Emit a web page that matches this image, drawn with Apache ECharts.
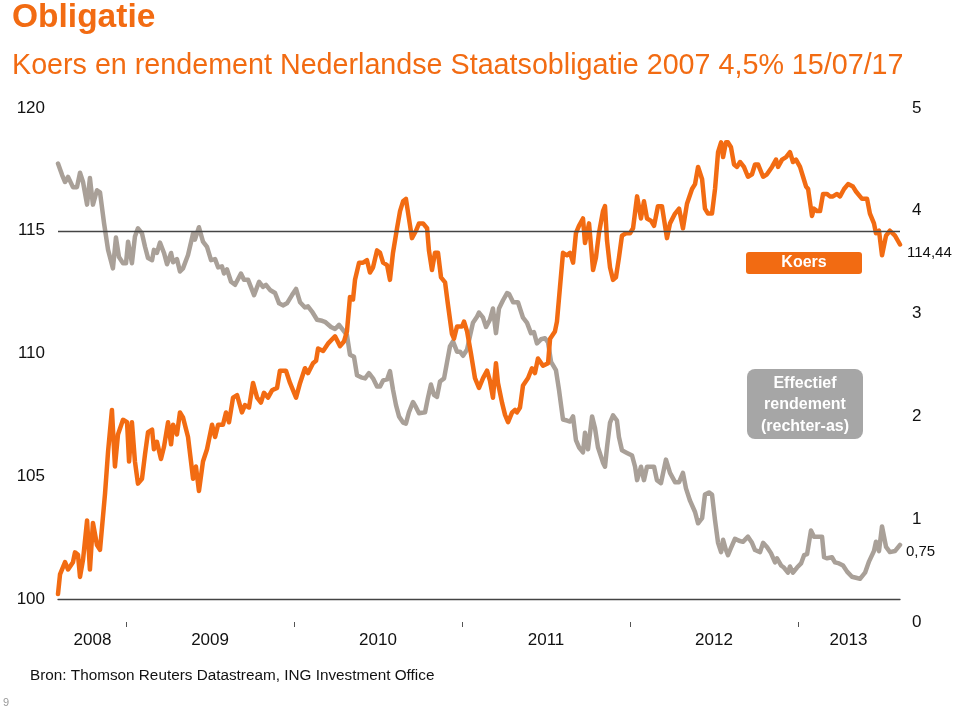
<!DOCTYPE html>
<html><head><meta charset="utf-8">
<script src="https://cdn.jsdelivr.net/npm/echarts@6/dist/echarts.min.js"></script>
<style>html,body{margin:0;padding:0;background:#fff}#c{width:960px;height:709px}</style>
</head><body><div id="c"></div>
<script>
// ---- data (dates as decimal years) ----
const koersDates = [
2008.595,2008.607,2008.637,2008.655,2008.684,2008.696,2008.714,2008.726,2008.744,2008.768,
2008.785,2008.803,2008.827,2008.845,2008.875,2008.893,2008.916,2008.934,2008.952,2008.982,
2009.006,2009.018,2009.035,2009.053,2009.071,2009.095,2009.113,2009.131,2009.155,2009.166,
2009.184,2009.208,2009.226,2009.250,2009.268,2009.280,2009.303,2009.321,2009.339,2009.369,
2009.399,2009.416,2009.434,2009.458,2009.482,2009.512,2009.530,2009.548,2009.577,2009.595,
2009.613,2009.637,2009.661,2009.690,2009.708,2009.732,2009.756,2009.780,2009.803,2009.821,
2009.845,2009.869,2009.899,2009.916,2009.952,2009.976,2010.012,2010.036,2010.065,2010.083,
2010.113,2010.131,2010.143,2010.173,2010.202,2010.244,2010.274,2010.298,2010.315,2010.333,
2010.351,2010.363,2010.387,2010.411,2010.434,2010.452,2010.470,2010.494,2010.512,2010.530,
2010.554,2010.571,2010.589,2010.613,2010.631,2010.649,2010.666,2010.684,2010.702,2010.726,
2010.744,2010.768,2010.792,2010.803,2010.821,2010.839,2010.857,2010.875,2010.899,2010.916,
2010.940,2010.952,2010.970,2011.000,2011.012,2011.030,2011.053,2011.077,2011.101,2011.125,
2011.149,2011.166,2011.184,2011.202,2011.214,2011.238,2011.256,2011.274,2011.298,2011.315,
2011.327,2011.345,2011.363,2011.393,2011.416,2011.434,2011.452,2011.482,2011.512,2011.524,
2011.553,2011.565,2011.583,2011.601,2011.625,2011.643,2011.661,2011.678,2011.696,2011.720,
2011.732,2011.756,2011.780,2011.797,2011.815,2011.839,2011.851,2011.863,2011.881,2011.899,
2011.916,2011.934,2011.952,2011.976,2012.000,2012.018,2012.042,2012.065,2012.083,2012.101,
2012.125,2012.143,2012.166,2012.190,2012.220,2012.238,2012.268,2012.292,2012.315,2012.339,
2012.369,2012.387,2012.405,2012.429,2012.446,2012.464,2012.488,2012.506,2012.524,2012.542,
2012.554,2012.571,2012.583,2012.601,2012.619,2012.637,2012.655,2012.678,2012.702,2012.726,
2012.744,2012.762,2012.792,2012.815,2012.845,2012.869,2012.881,2012.905,2012.929,2012.952,
2012.970,2012.988,2013.012,2013.030,2013.048,2013.060,2013.083,2013.095,2013.113,2013.131,
2013.149,2013.173,2013.190,2013.208,2013.232,2013.250,2013.274,2013.298,2013.327,2013.345,
2013.381,2013.411,2013.428,2013.452,2013.464,2013.482,2013.500,2013.524,2013.547,2013.577,2013.607
];
const koersValues = [
100.2,101.0,101.5,101.2,101.5,101.9,101.8,100.9,101.6,103.2,
101.2,103.1,102.2,102.0,104.3,106.0,107.7,105.4,106.7,107.3,
107.2,105.6,107.2,105.6,104.7,104.9,105.9,106.8,106.9,106.1,
106.4,105.7,106.2,107.2,106.3,107.1,106.7,107.6,107.4,106.6,
104.9,105.4,104.4,105.6,106.1,107.1,106.6,107.1,107.1,107.6,
107.2,108.2,108.3,107.6,107.9,107.8,108.8,108.2,108.0,108.4,
108.2,108.5,108.6,109.3,109.3,108.8,108.2,108.8,109.4,109.2,
109.6,109.7,110.2,110.1,110.4,110.7,110.3,110.5,110.9,112.3,
112.2,113.0,113.7,113.7,113.8,113.3,113.5,114.2,114.1,113.7,
113.6,113.0,114.1,115.1,115.8,116.2,116.3,115.5,114.7,115.0,
115.3,115.3,115.1,114.2,113.4,114.1,114.1,113.1,112.9,112.0,
110.8,110.6,111.1,111.1,111.3,110.9,110.0,109.0,108.6,109.0,
109.3,108.9,108.2,109.6,108.8,108.0,107.5,107.2,107.6,107.7,
107.6,107.8,108.7,109.0,109.4,109.2,109.8,109.5,109.6,110.6,
110.9,111.3,112.7,114.1,114.0,114.1,113.7,114.9,115.2,115.5,
114.5,115.3,113.4,113.9,114.9,115.8,116.0,114.6,113.5,113.0,
113.1,113.9,114.8,114.9,114.9,115.1,116.4,115.5,116.2,115.5,
115.4,115.2,116.0,116.0,114.7,115.3,115.7,115.9,115.1,116.1,
116.7,116.9,117.6,117.1,115.9,115.7,115.7,116.7,118.2,118.6,
118.0,118.6,118.6,118.4,117.7,117.6,117.8,117.6,117.2,117.3,
117.7,117.7,117.2,117.3,117.6,117.9,117.6,117.9,118.0,118.2,
117.8,117.9,117.6,117.2,116.8,116.7,115.6,115.9,115.8,115.8,
116.5,116.5,116.4,116.4,116.5,116.4,116.7,116.9,116.8,116.6,
116.3,116.3,115.7,115.3,114.9,115.0,114.0,114.8,115.0,114.8,114.44
];
const yieldDates = [
2008.595,2008.619,2008.637,2008.655,2008.684,2008.708,2008.726,2008.744,2008.768,2008.785,
2008.803,2008.827,2008.845,2008.869,2008.893,2008.922,2008.940,2008.958,2008.982,2009.000,
2009.012,2009.035,2009.053,2009.071,2009.095,2009.113,2009.131,2009.155,2009.166,2009.184,
2009.202,2009.226,2009.244,2009.268,2009.280,2009.303,2009.321,2009.339,2009.369,2009.399,
2009.410,2009.434,2009.458,2009.482,2009.506,2009.530,2009.548,2009.571,2009.583,2009.601,
2009.625,2009.649,2009.684,2009.702,2009.726,2009.762,2009.792,2009.815,2009.833,2009.857,
2009.887,2009.911,2009.934,2009.958,2009.988,2010.012,2010.036,2010.065,2010.083,2010.107,
2010.137,2010.167,2010.184,2010.220,2010.244,2010.268,2010.292,2010.315,2010.333,2010.357,
2010.375,2010.399,2010.423,2010.446,2010.470,2010.494,2010.512,2010.530,2010.554,2010.571,
2010.589,2010.607,2010.625,2010.649,2010.666,2010.684,2010.708,2010.726,2010.744,2010.780,
2010.797,2010.815,2010.833,2010.851,2010.869,2010.893,2010.910,2010.928,2010.946,2010.970,
2010.988,2011.006,2011.030,2011.047,2011.065,2011.089,2011.101,2011.125,2011.143,2011.166,
2011.184,2011.202,2011.220,2011.244,2011.268,2011.280,2011.304,2011.333,2011.363,2011.387,
2011.410,2011.428,2011.446,2011.470,2011.494,2011.512,2011.530,2011.559,2011.577,2011.601,
2011.625,2011.643,2011.661,2011.678,2011.696,2011.720,2011.732,2011.750,2011.774,2011.791,
2011.809,2011.839,2011.851,2011.863,2011.881,2011.899,2011.922,2011.934,2011.952,2011.976,
2012.012,2012.030,2012.042,2012.065,2012.083,2012.101,2012.125,2012.143,2012.160,2012.184,
2012.214,2012.238,2012.268,2012.292,2012.315,2012.333,2012.357,2012.387,2012.405,2012.429,
2012.446,2012.470,2012.488,2012.506,2012.524,2012.542,2012.554,2012.571,2012.583,2012.601,
2012.625,2012.649,2012.672,2012.702,2012.726,2012.744,2012.774,2012.792,2012.815,2012.839,
2012.863,2012.875,2012.899,2012.916,2012.940,2012.952,2012.970,2012.994,2013.018,2013.036,
2013.054,2013.077,2013.095,2013.119,2013.143,2013.155,2013.173,2013.202,2013.220,2013.244,
2013.268,2013.292,2013.321,2013.345,2013.369,2013.399,2013.423,2013.452,2013.464,2013.482,
2013.500,2013.524,2013.547,2013.577,2013.607
];
const yieldValues = [
4.46,4.35,4.28,4.33,4.23,4.23,4.37,4.28,4.06,4.32,
4.06,4.20,4.18,3.88,3.62,3.44,3.74,3.55,3.49,3.49,
3.70,3.49,3.75,3.83,3.78,3.65,3.54,3.52,3.62,3.59,
3.69,3.59,3.48,3.59,3.50,3.53,3.41,3.44,3.57,3.78,
3.72,3.84,3.70,3.65,3.52,3.53,3.45,3.46,3.39,3.43,
3.31,3.28,3.39,3.33,3.33,3.18,3.31,3.26,3.28,3.23,
3.20,3.10,3.08,3.10,3.18,3.24,3.11,3.06,3.07,3.02,
2.94,2.93,2.92,2.87,2.85,2.89,2.84,2.79,2.60,2.58,
2.40,2.38,2.37,2.42,2.37,2.29,2.29,2.35,2.36,2.44,
2.26,2.11,2.00,1.94,1.93,2.04,2.14,2.09,2.03,2.04,
2.18,2.31,2.21,2.19,2.34,2.37,2.52,2.68,2.73,2.63,
2.63,2.59,2.65,2.78,2.91,2.97,3.01,2.96,2.87,2.94,
3.05,2.81,3.05,3.13,3.20,3.19,3.11,3.11,2.96,2.91,
2.81,2.82,2.71,2.75,2.76,2.72,2.53,2.45,2.26,1.97,
1.96,1.95,2.00,1.77,1.70,1.65,1.84,1.68,2.00,1.89,
1.70,1.55,1.51,1.70,1.94,2.01,1.96,1.80,1.67,1.65,
1.62,1.51,1.38,1.51,1.38,1.51,1.51,1.51,1.38,1.35,
1.58,1.45,1.36,1.36,1.45,1.30,1.18,1.07,0.96,1.01,
1.24,1.26,1.24,0.99,0.77,0.68,0.80,0.70,0.65,0.72,
0.81,0.79,0.78,0.83,0.77,0.70,0.68,0.77,0.73,0.67,
0.58,0.62,0.55,0.53,0.48,0.54,0.48,0.53,0.57,0.65,
0.66,0.89,0.83,0.83,0.83,0.63,0.62,0.63,0.58,0.57,
0.55,0.49,0.44,0.43,0.42,0.48,0.59,0.69,0.78,0.69,
0.93,0.73,0.68,0.69,0.75
];
const yearTicks = [2009, 2010, 2011, 2012, 2013];
const yearLabelPos = [2008.80, 2009.50, 2010.50, 2011.50, 2012.50, 2013.30];
const leftTicks = [100, 105, 110, 115, 120];
const rightTicks = [0, 1, 2, 3, 4, 5];
const koersEndLabel = '114,44';
const yieldEndLabel = '0,75';

// ---- chart ----
const FONT = '"Liberation Sans", Arial, Helvetica, sans-serif';
const ORANGE = '#F26B12';
const GRAYLINE = '#A9A098';
const xMin = koersDates[0], xMax = koersDates[koersDates.length - 1];
const koersData = koersDates.map((d, i) => [d, koersValues[i]]);
const yieldData = yieldDates.map((d, i) => [d, yieldValues[i]]);

const chart = echarts.init(document.getElementById('c'), null, {renderer: 'canvas'});
chart.setOption({
  animation: false,
  backgroundColor: '#ffffff',
  grid: [
    {left: 58, right: 60, top: 108, bottom: 110},
    {left: 58, right: 60, top: 108, bottom: 87}
  ],
  xAxis: [
    {gridIndex: 0, type: 'value', min: xMin, max: xMax,
      axisLine: {show: true, onZero: false, lineStyle: {color: '#444', width: 1.3}},
      axisTick: {show: false}, axisLabel: {show: false}, splitLine: {show: false}},
    {gridIndex: 1, type: 'value', min: xMin, max: xMax, offset: 2,
      axisLine: {show: false},
      axisTick: {show: true, customValues: yearTicks, length: 5, lineStyle: {color: '#555', width: 1}},
      axisLabel: {show: true, customValues: yearLabelPos, hideOverlap: false,
        formatter: v => String(Math.floor(v + 1e-6)), margin: 8,
        fontSize: 17, color: '#111', fontFamily: FONT},
      splitLine: {show: false}}
  ],
  yAxis: [
    {gridIndex: 0, type: 'value', min: leftTicks[0], max: leftTicks[leftTicks.length - 1], interval: 5,
      axisLine: {show: false}, axisTick: {show: false}, splitLine: {show: false},
      axisLabel: {margin: 13, fontSize: 17, color: '#111', fontFamily: FONT}},
    {gridIndex: 1, type: 'value', position: 'right', min: rightTicks[0], max: rightTicks[rightTicks.length - 1], interval: 1,
      axisLine: {show: false}, axisTick: {show: false}, splitLine: {show: false},
      axisLabel: {margin: 12, fontSize: 17, color: '#111', fontFamily: FONT}}
  ],
  series: [
    {name: 'Effectief rendement', type: 'line', xAxisIndex: 1, yAxisIndex: 1, data: yieldData,
      showSymbol: false, symbol: 'none', clip: false,
      lineStyle: {color: GRAYLINE, width: 4.5, join: 'round', cap: 'round'},
      endLabel: {show: true, formatter: yieldEndLabel, color: '#111', fontSize: 15, fontFamily: FONT, distance: 6, offset: [0, 7]}},
    {name: 'Koers', type: 'line', xAxisIndex: 0, yAxisIndex: 0, data: koersData,
      showSymbol: false, symbol: 'none', clip: false,
      lineStyle: {color: ORANGE, width: 4.5, join: 'round', cap: 'round'},
      endLabel: {show: true, formatter: koersEndLabel, color: '#111', fontSize: 15, fontFamily: FONT, distance: 7, offset: [0, 8]},
      markLine: {silent: true, symbol: ['none', 'none'], label: {show: false},
        lineStyle: {color: '#444', width: 1.3, type: 'solid'}, data: [{yAxis: 115}]}}
  ],
  graphic: [
    {type: 'text', x: 12, y: 18, style: {text: 'Obligatie', fill: ORANGE, font: 'bold 33.5px ' + FONT, verticalAlign: 'middle'}},
    {type: 'text', x: 12, y: 66, style: {text: 'Koers en rendement Nederlandse Staatsobligatie 2007 4,5% 15/07/17', fill: ORANGE, font: '28.7px ' + FONT, verticalAlign: 'middle'}},
    {type: 'text', x: 30, y: 676, style: {text: 'Bron: Thomson Reuters Datastream, ING Investment Office', fill: '#111', font: '15.3px ' + FONT, verticalAlign: 'middle'}},
    {type: 'text', x: 3, y: 703, style: {text: '9', fill: '#999', font: '11px ' + FONT, verticalAlign: 'middle'}},
    {type: 'rect', shape: {x: 746, y: 252, width: 116, height: 22, r: 3}, style: {fill: ORANGE}},
    {type: 'text', x: 804, y: 263, style: {text: 'Koers', fill: '#fff', font: 'bold 16px ' + FONT, align: 'center', verticalAlign: 'middle'}},
    {type: 'rect', shape: {x: 747, y: 369, width: 116, height: 70, r: 8}, style: {fill: '#A6A6A6'}},
    {type: 'text', x: 805, y: 405, style: {text: 'Effectief\nrendement\n(rechter-as)', fill: '#fff', font: 'bold 16px ' + FONT, lineHeight: 21.5, align: 'center', verticalAlign: 'middle'}}
  ]
});
</script>
</body></html>
